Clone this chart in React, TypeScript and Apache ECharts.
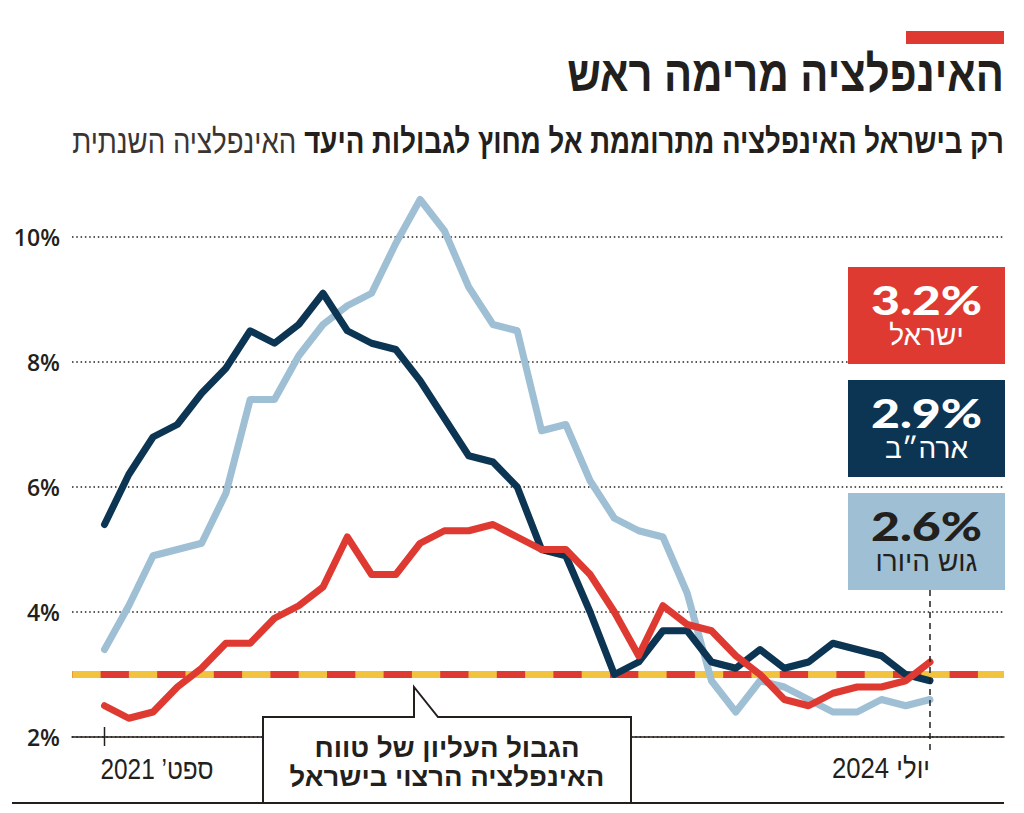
import React, { useEffect, useRef } from 'react';
import * as echarts from 'echarts';

const months = [
  '2021-09', '2021-10', '2021-11', '2021-12',
  '2022-01', '2022-02', '2022-03', '2022-04', '2022-05', '2022-06',
  '2022-07', '2022-08', '2022-09', '2022-10', '2022-11', '2022-12',
  '2023-01', '2023-02', '2023-03', '2023-04', '2023-05', '2023-06',
  '2023-07', '2023-08', '2023-09', '2023-10', '2023-11', '2023-12',
  '2024-01', '2024-02', '2024-03', '2024-04', '2024-05', '2024-06', '2024-07',
];
const israel = [2.5, 2.3, 2.4, 2.8, 3.1, 3.5, 3.5, 3.9, 4.1, 4.4, 5.2, 4.6, 4.6, 5.1, 5.3, 5.3, 5.4, 5.2, 5.0, 5.0, 4.6, 4.0, 3.3, 4.1, 3.8, 3.7, 3.3, 3.0, 2.6, 2.5, 2.7, 2.8, 2.8, 2.9, 3.2];
const usa = [5.4, 6.2, 6.8, 7.0, 7.5, 7.9, 8.5, 8.3, 8.6, 9.1, 8.5, 8.3, 8.2, 7.7, 7.1, 6.5, 6.4, 6.0, 5.0, 4.9, 4.0, 3.0, 3.2, 3.7, 3.7, 3.2, 3.1, 3.4, 3.1, 3.2, 3.5, 3.4, 3.3, 3.0, 2.9];
const euro = [3.4, 4.1, 4.9, 5.0, 5.1, 5.9, 7.4, 7.4, 8.1, 8.6, 8.9, 9.1, 9.9, 10.6, 10.1, 9.2, 8.6, 8.5, 6.9, 7.0, 6.1, 5.5, 5.3, 5.2, 4.3, 2.9, 2.4, 2.9, 2.8, 2.6, 2.4, 2.4, 2.6, 2.5, 2.6];
const targetValue = 3;
const yTicks = [2, 4, 6, 8, 10];
const firstLabel = 'ספט’ 2021';
const lastLabel = 'יולי 2024';
const seriesNames = ['ישראל', 'ארה״ב', 'גוש היורו'];
const latestLabels = ['3.2%', '2.9%', '2.6%'];

const TITLE = 'האינפלציה מרימה ראש';
const SUB_BOLD = 'רק בישראל האינפלציה מתרוממת אל מחוץ לגבולות היעד';
const SUB_REG = 'האינפלציה השנתית';
const NOTE1 = 'הגבול העליון של טווח';
const NOTE2 = 'האינפלציה הרצוי בישראל';

const RED = '#df3a31';
const NAVY = '#0c3553';
const LIGHT = '#9ebfd4';
const YELLOW = '#f1c33e';
const INK = '#231f1c';

const PX_PER = 825.5 / 34;
const X_MIN = -(104.5 - 72) / PX_PER;
const X_MAX = 34 + (1004 - 930) / PX_PER;

const HEB = '"Liberation Sans", "DejaVu Sans", sans-serif';

function measure(font: string, text: string) {
  const c = document.createElement('canvas').getContext('2d')!;
  c.font = font;
  return c.measureText(text).width;
}

const toPairs = (arr: number[]) => arr.map((v, i) => [i, v]);

export default function App() {
  const ref = useRef<HTMLDivElement>(null);
  useEffect(() => {
    const chart = echarts.init(ref.current!, null, { renderer: 'svg' });
    const lineSeries = (name: string, data: number[], color: string, z: number) => ({
      type: 'line',
      name,
      data: toPairs(data),
      symbol: 'none',
      clip: false,
      z,
      lineStyle: { color, width: 7, cap: 'round', join: 'round' },
      silent: true,
    });
    chart.setOption({
      animation: false,
      grid: { left: 72, right: 20, top: 237, bottom: 76 },
      xAxis: {
        type: 'value',
        min: X_MIN,
        max: X_MAX,
        axisLine: { show: true, onZero: false, lineStyle: { color: INK, width: 1.5 } },
        axisTick: { show: false },
        axisLabel: { show: false },
        splitLine: { show: false },
      },
      yAxis: {
        type: 'value',
        min: yTicks[0],
        max: yTicks[yTicks.length - 1],
        interval: 2,
        axisLine: { show: false },
        axisTick: { show: false },
        axisLabel: {
          formatter: '{value}%',
          margin: 12,
          fontSize: 23,
          fontWeight: 600,
          fontFamily: '"Open Sans", sans-serif',
          color: INK,
        },
        splitLine: { lineStyle: { type: [1.5, 2.8], color: INK, width: 1.5 } },
      },
      series: [
        {
          type: 'line',
          data: [[X_MIN, targetValue], [X_MAX, targetValue]],
          symbol: 'none',
          z: 1,
          silent: true,
          lineStyle: { color: YELLOW, width: 7 },
        },
        {
          type: 'line',
          data: [[X_MIN, targetValue], [X_MAX, targetValue]],
          symbol: 'none',
          z: 1,
          silent: true,
          lineStyle: { color: RED, width: 7, type: [28.3, 28.3], dashOffset: 28.3 },
        },
        lineSeries(seriesNames[2], euro, LIGHT, 2),
        lineSeries(seriesNames[1], usa, NAVY, 3),
        lineSeries(seriesNames[0], israel, RED, 4),
      ],
    });

    const p0 = chart.convertToPixel({ gridIndex: 0 }, [0, yTicks[0]]) as number[];
    const pN = chart.convertToPixel({ gridIndex: 0 }, [months.length - 1, yTicks[0]]) as number[];

    const titleFont = `bold 50px ${HEB}`;
    const titleScale = 437 / measure(titleFont, TITLE);
    const subBoldFont = `bold 34px ${HEB}`;
    const subRegFont = `normal 34px ${HEB}`;
    const subW = measure(subBoldFont, SUB_BOLD) + measure(subRegFont, ' ' + SUB_REG);
    const subScale = 932 / subW;
    const noteFont = `bold 27px ${HEB}`;
    const noteScale = 265 / measure(noteFont, NOTE1);
    const xlabFont = `normal 29px ${HEB}`;
    const x1Scale = 113 / measure(xlabFont, firstLabel);
    const x2Scale = 98 / measure(xlabFont, lastLabel);
    const valFont = `900 40px Lato, sans-serif`;
    const nameFont = `normal 28px ${HEB}`;

    const boxes = [
      { y: 267, fill: RED, color: '#ffffff' },
      { y: 380, fill: NAVY, color: '#ffffff' },
      { y: 493, fill: LIGHT, color: INK },
    ];

    const elements: any[] = [
      { type: 'rect', shape: { x: 906, y: 31, width: 98, height: 13 }, style: { fill: RED } },
      {
        type: 'text', x: 1004, y: 74, scaleX: titleScale,
        style: { x: 0, y: 0, text: TITLE, font: titleFont, fill: INK, align: 'right', verticalAlign: 'middle', textAlign: 'right', textVerticalAlign: 'middle' },
      },
      {
        type: 'text', x: 1004, y: 141, scaleX: subScale,
        style: {
          x: 0, y: 0,
          text: `{r|${SUB_REG} }{b|${SUB_BOLD}}`,
          align: 'right', verticalAlign: 'middle', textAlign: 'right', textVerticalAlign: 'middle',
          rich: {
            r: { font: subRegFont, fill: '#3a3532' },
            b: { font: subBoldFont, fill: INK },
          },
        },
      },
      // bottom rule
      { type: 'line', shape: { x1: 12, y1: 803, x2: 1004, y2: 803 }, style: { stroke: INK, lineWidth: 2 }, z: 50 },
      // first tick
      { type: 'line', shape: { x1: p0[0], y1: p0[1] - 10, x2: p0[0], y2: p0[1] + 9 }, style: { stroke: INK, lineWidth: 1.5 }, z: 50 },
      // last dashed marker
      { type: 'line', shape: { x1: pN[0], y1: 590, x2: pN[0], y2: p0[1] + 14 }, style: { stroke: INK, lineWidth: 1.5, lineDash: [6, 5] }, z: 50 },
      {
        type: 'text', x: p0[0] - 4, y: 769, scaleX: x1Scale,
        style: { x: 0, y: 0, text: firstLabel, font: xlabFont, fill: INK, align: 'left', verticalAlign: 'middle', textAlign: 'left', textVerticalAlign: 'middle' },
      },
      {
        type: 'text', x: pN[0], y: 768, scaleX: x2Scale,
        style: { x: 0, y: 0, text: lastLabel, font: xlabFont, fill: INK, align: 'right', verticalAlign: 'middle', textAlign: 'right', textVerticalAlign: 'middle' },
      },
      // annotation callout
      {
        type: 'polygon', z: 60,
        shape: { points: [[263, 717], [414, 717], [414, 687], [438, 717], [631, 717], [631, 803], [263, 803]] },
        style: { fill: '#ffffff', stroke: INK, lineWidth: 2 },
      },
      {
        type: 'text', x: 447, y: 748, scaleX: noteScale, z: 61,
        style: { x: 0, y: 0, text: NOTE1, font: noteFont, fill: INK, align: 'center', verticalAlign: 'middle', textAlign: 'center', textVerticalAlign: 'middle' },
      },
      {
        type: 'text', x: 447, y: 777, scaleX: noteScale, z: 61,
        style: { x: 0, y: 0, text: NOTE2, font: noteFont, fill: INK, align: 'center', verticalAlign: 'middle', textAlign: 'center', textVerticalAlign: 'middle' },
      },
    ];

    boxes.forEach((b, i) => {
      elements.push({ type: 'rect', z: 60, shape: { x: 848, y: b.y, width: 157, height: 97 }, style: { fill: b.fill } });
      elements.push({
        type: 'text', z: 61, x: 926.5, y: b.y + 33, scaleX: 1.25,
        style: { x: 0, y: 0, text: latestLabels[i], font: valFont, fill: b.color, align: 'center', verticalAlign: 'middle', textAlign: 'center', textVerticalAlign: 'middle' },
      });
      elements.push({
        type: 'text', z: 61, x: 926.5, y: b.y + 68,
        style: { x: 0, y: 0, text: seriesNames[i], font: nameFont, fill: b.color, align: 'center', verticalAlign: 'middle', textAlign: 'center', textVerticalAlign: 'middle' },
      });
    });

    chart.setOption({ graphic: { elements } });
    return () => chart.dispose();
  }, []);
  return <div ref={ref} style={{ position: 'absolute', left: 0, top: 0, width: 1024, height: 813, background: '#fff' }} />;
}
